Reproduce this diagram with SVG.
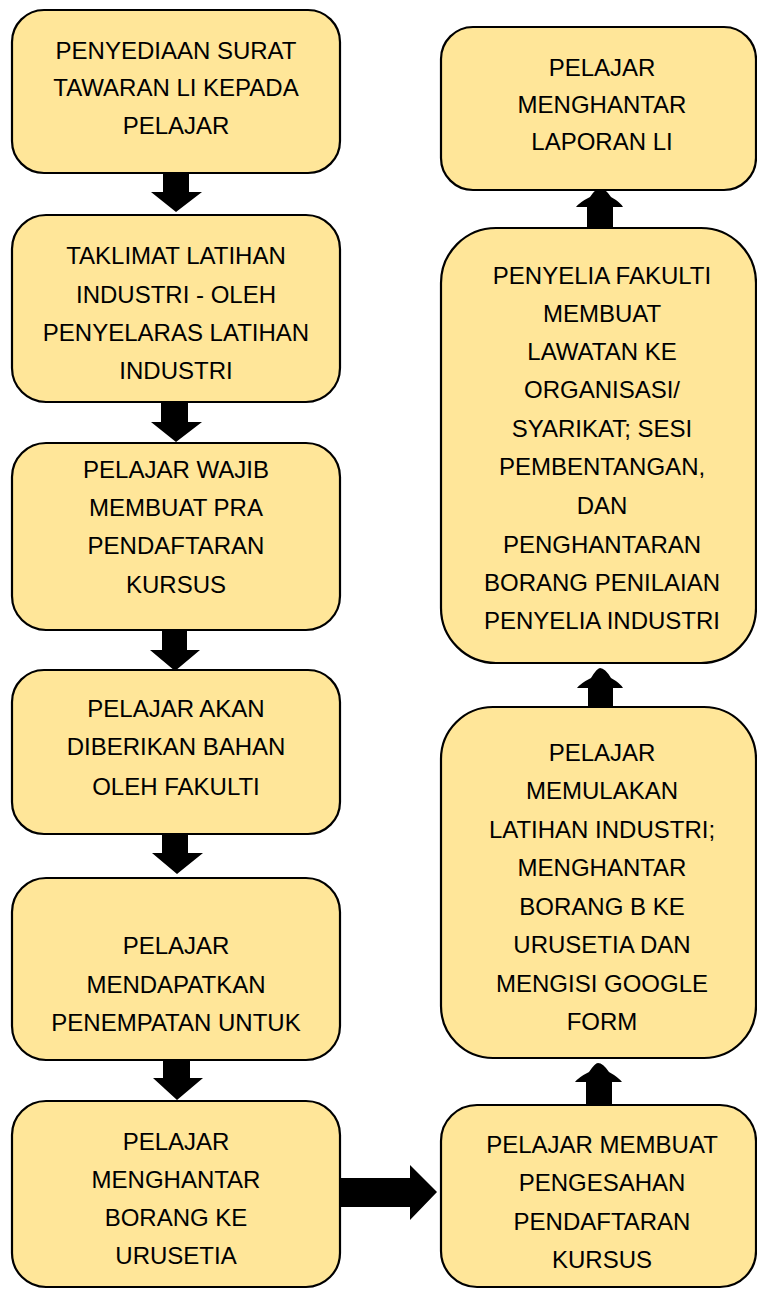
<svg xmlns="http://www.w3.org/2000/svg" width="757" height="1289" viewBox="0 0 757 1289">
<style>
.box{fill:#FFE699;stroke:#000;stroke-width:2.2}
.t{font-family:"Liberation Sans",Arial,sans-serif;font-size:24px;fill:#000;text-anchor:middle}
.arr{fill:#000}
</style>
<rect width="757" height="1289" fill="#fff"/>
<g id="connectors">
<path class="arr" d="M163,173 H189 V192 H202 L176,212 L151,192 H163 Z"/>
<path class="arr" d="M161,402 H188 V422 H202 L176,442 L151,422 H161 Z"/>
<path class="arr" d="M162,630 H187 V650 H200 L175,671 L150,650 H162 Z"/>
<path class="arr" d="M162,834 H188 V853 H203 L177,874 L152,853 H162 Z"/>
<path class="arr" d="M163,1060 H190 V1078 H203 L177,1100 L153,1078 H163 Z"/>
<path class="arr" d="M340,1178 H410 V1165 L437,1192 L410,1220 V1207 H340 Z"/>
<path class="arr" d="M587,229 V207 H576 Q580,202 590,197 Q596,188 600,188 Q605,188 611,197 Q620,202 623,207 H613 V229 Z"/>
<path class="arr" d="M588,708 V688 H577 Q581,683 591,678 Q597,668 600,668 Q605,668 611,678 Q620,683 623,688 H613 V708 Z"/>
<path class="arr" d="M586,1104 V1082 H575 Q579,1077 589,1072 Q595,1063 598,1063 Q603,1063 609,1072 Q618,1077 622,1082 H612 V1104 Z"/>
</g>
<g id="n1">
<rect class="box" x="12" y="10" width="328" height="163" rx="32"/>
<text class="t" x="176" y="59">PENYEDIAAN SURAT</text>
<text class="t" x="176" y="96">TAWARAN LI KEPADA</text>
<text class="t" x="176" y="134">PELAJAR</text>
</g>
<g id="n2">
<rect class="box" x="12" y="215" width="328" height="187" rx="34"/>
<text class="t" x="176" y="264">TAKLIMAT LATIHAN</text>
<text class="t" x="176" y="303">INDUSTRI - OLEH</text>
<text class="t" x="176" y="341">PENYELARAS LATIHAN</text>
<text class="t" x="176" y="379">INDUSTRI</text>
</g>
<g id="n3">
<rect class="box" x="12" y="443" width="328" height="187" rx="34"/>
<text class="t" x="176" y="478">PELAJAR WAJIB</text>
<text class="t" x="176" y="516">MEMBUAT PRA</text>
<text class="t" x="176" y="554">PENDAFTARAN</text>
<text class="t" x="176" y="593">KURSUS</text>
</g>
<g id="n4">
<rect class="box" x="12" y="670" width="328" height="164" rx="32"/>
<text class="t" x="176" y="717">PELAJAR AKAN</text>
<text class="t" x="176" y="755">DIBERIKAN BAHAN</text>
<text class="t" x="176" y="795">OLEH FAKULTI</text>
</g>
<g id="n5">
<rect class="box" x="12" y="878" width="328" height="182" rx="34"/>
<text class="t" x="176" y="954">PELAJAR</text>
<text class="t" x="176" y="993">MENDAPATKAN</text>
<text class="t" x="176" y="1031">PENEMPATAN UNTUK</text>
</g>
<g id="n6">
<rect class="box" x="12" y="1101" width="328" height="186" rx="34"/>
<text class="t" x="176" y="1150">PELAJAR</text>
<text class="t" x="176" y="1188">MENGHANTAR</text>
<text class="t" x="176" y="1226">BORANG KE</text>
<text class="t" x="176" y="1264">URUSETIA</text>
</g>
<g id="r1">
<rect class="box" x="441" y="27" width="315" height="163" rx="32"/>
<text class="t" x="602" y="76">PELAJAR</text>
<text class="t" x="602" y="113">MENGHANTAR</text>
<text class="t" x="602" y="150">LAPORAN LI</text>
</g>
<g id="r2">
<rect class="box" x="441" y="228" width="315" height="435" rx="55"/>
<text class="t" x="602" y="284">PENYELIA FAKULTI</text>
<text class="t" x="602" y="322">MEMBUAT</text>
<text class="t" x="602" y="360">LAWATAN KE</text>
<text class="t" x="602" y="398">ORGANISASI/</text>
<text class="t" x="602" y="437">SYARIKAT; SESI</text>
<text class="t" x="602" y="475">PEMBENTANGAN,</text>
<text class="t" x="602" y="514">DAN</text>
<text class="t" x="602" y="553">PENGHANTARAN</text>
<text class="t" x="602" y="591">BORANG PENILAIAN</text>
<text class="t" x="602" y="629">PENYELIA INDUSTRI</text>
</g>
<g id="r3">
<rect class="box" x="441" y="707" width="315" height="351" rx="52"/>
<text class="t" x="602" y="761">PELAJAR</text>
<text class="t" x="602" y="799">MEMULAKAN</text>
<text class="t" x="602" y="838">LATIHAN INDUSTRI;</text>
<text class="t" x="602" y="876">MENGHANTAR</text>
<text class="t" x="602" y="915">BORANG B KE</text>
<text class="t" x="602" y="953">URUSETIA DAN</text>
<text class="t" x="602" y="992">MENGISI GOOGLE</text>
<text class="t" x="602" y="1030">FORM</text>
</g>
<g id="r4">
<rect class="box" x="441" y="1105" width="315" height="182" rx="36"/>
<text class="t" x="602" y="1153">PELAJAR MEMBUAT</text>
<text class="t" x="602" y="1191">PENGESAHAN</text>
<text class="t" x="602" y="1230">PENDAFTARAN</text>
<text class="t" x="602" y="1268">KURSUS</text>
</g>
</svg>
